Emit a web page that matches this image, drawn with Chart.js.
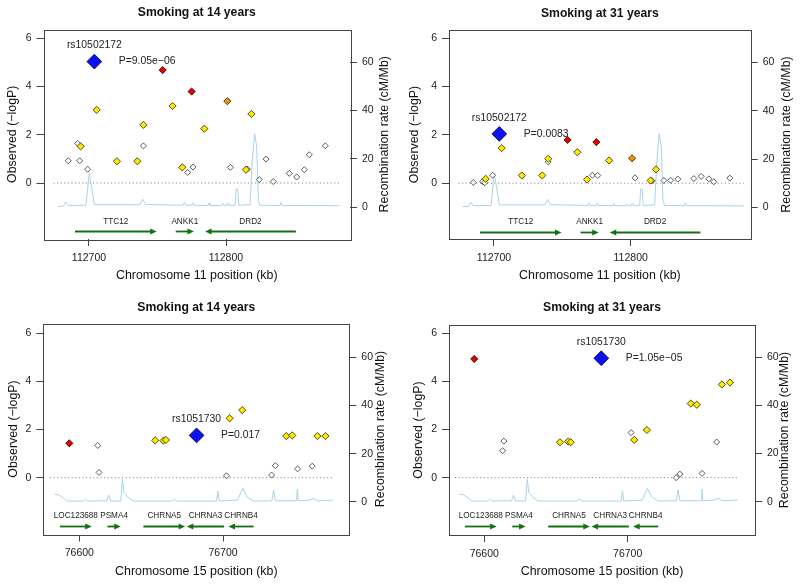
<!DOCTYPE html>
<html>
<head>
<meta charset="utf-8">
<script src="https://cdn.jsdelivr.net/npm/chart.js@4.4.1/dist/chart.umd.min.js"></script>
<style>
  html, body { margin: 0; padding: 0; background: #fff; }
  body { width: 800px; height: 585px; position: relative; overflow: hidden; }
  canvas { position: absolute; }
</style>
</head>
<body>
<canvas id="c1" width="400" height="290" style="left:0;top:0"></canvas>
<canvas id="c2" width="400" height="290" style="left:400px;top:0"></canvas>
<canvas id="c3" width="400" height="295" style="left:0;top:290px"></canvas>
<canvas id="c4" width="400" height="295" style="left:400px;top:290px"></canvas>
<script>
// ---- chromosome 11 region: TTC12 / ANKK1 / DRD2 ----
const chr11Pos = [112684.9, 112691.7, 112693.2, 112693.9, 112699.0, 112703.9, 112705.6, 112720.4,
  112735.3, 112739.7, 112739.7, 112753.8, 112761.0, 112768.1, 112772.0, 112775.9, 112774.9,
  112784.2, 112801.0, 112803.2, 112814.6, 112815.6, 112818.5, 112824.3, 112829.2, 112834.5,
  112846.2, 112851.6, 112857.2, 112860.8, 112872.5];
const chr11LD = ['w', 'w', 'w', 'y', 'w', 'idx', 'y', 'y', 'y', 'y', 'w', 'r', 'y', 'y', 'w', 'w', 'r',
  'y', 'o', 'w', 'y', 'w', 'y', 'w', 'w', 'w', 'w', 'w', 'w', 'w', 'w'];
const chr11Age14 = [0.92, 1.64, 0.92, 1.52, 0.57, 5.03, 3.03, 0.90, 0.90, 2.41, 1.54, 4.68, 3.19, 0.65,
  0.44, 0.66, 3.79, 2.25, 3.39, 0.65, 0.55, 0.58, 2.86, 0.14, 0.99, 0.06, 0.40, 0.25, 0.55, 1.17, 1.54];
const chr11Age31 = [0.03, 0.07, 0.02, 0.18, 0.33, 2.04, 1.45, 0.32, 0.32, 1.01, 0.88, 1.79, 1.28, 0.15,
  0.33, 0.32, 1.70, 0.94, 1.03, 0.22, 0.11, 0.10, 0.57, 0.11, 0.12, 0.17, 0.19, 0.28, 0.18, 0.06, 0.21];
const chr11RecPos = [112677.1, 112681.3, 112683.0, 112684.9, 112697.8, 112700.2, 112702.0, 112703.9,
  112737.2, 112739.2, 112741.1, 112768.6, 112769.6, 112770.6, 112774.9, 112775.7, 112776.4,
  112786.9, 112787.6, 112788.3, 112796.8, 112797.6, 112798.3, 112800.5, 112801.2, 112802.0,
  112806.6, 112807.3, 112808.5, 112809.2, 112817.5, 112819.2, 112820.9, 112822.4, 112823.6,
  112824.8, 112839.4, 112840.1, 112840.9, 112882.7];
const chr11RecRate = [0.3, 0.4, 2.1, 0.7, 0.8, 14.1, 8.0, 1.0, 1.0, 3.3, 1.1, 0.8, 1.9, 0.8, 0.8, 1.9, 0.8,
  0.7, 1.7, 0.7, 0.7, 1.4, 0.7, 0.8, 1.8, 0.8, 0.8, 7.5, 7.5, 0.8, 1.0, 19.6, 30.4, 25.2, 3.0,
  0.8, 0.7, 1.9, 0.7, 0.6];
const chr11Genes = ['TTC12', 'ANKK1', 'DRD2'];
const chr11GeneFrom = [112689.8, 112763.3, 112851.0];
const chr11GeneTo = [112749.4, 112776.6, 112784.7];

// ---- chromosome 15 region: CHRNA5 / CHRNA3 / CHRNB4 ----
const chr15Pos = [76593.0, 76612.8, 76613.7, 76652.8, 76658.5, 76660.3, 76681.6, 76702.4, 76704.6,
  76713.4, 76733.8, 76736.4, 76744.0, 76748.2, 76751.9, 76762.1, 76765.7, 76771.3];
const chr15LD = ['r', 'w', 'w', 'y', 'y', 'y', 'idx', 'w', 'y', 'y', 'w', 'w', 'y', 'y', 'w', 'w', 'y', 'y'];
const chr15Age14 = [1.43, 1.34, 0.22, 1.55, 1.54, 1.57, 1.76, 0.08, 2.47, 2.81, 0.11, 0.50, 1.73, 1.76,
  0.37, 0.48, 1.73, 1.73];
const chr15Age31 = [4.93, 1.12, 1.52, 1.47, 1.50, 1.47, 4.96, 1.87, 1.57, 1.98, 0.00, 0.15, 3.08, 3.03,
  0.18, 1.48, 3.87, 3.95];
const chr15RecPos = [76582.6, 76585.4, 76588.9, 76591.2, 76602.8, 76604.2, 76605.6, 76619.0, 76620.4,
  76621.8, 76628.8, 76630.0, 76631.1, 76634.1, 76637.6, 76664.3, 76666.2, 76668.0, 76695.5,
  76696.4, 76697.3, 76710.1, 76713.8, 76716.6, 76721.3, 76734.0, 76735.2, 76736.4, 76751.2,
  76751.7, 76752.4, 76760.3, 76763.1, 76765.9, 76776.5];
const chr15RecRate = [3.2, 2.9, 1.5, 0.3, 0.3, 1.1, 0.3, 0.4, 2.8, 0.3, 0.3, 9.3, 3.8, 1.8, 0.3, 0.3, 1.0,
  0.3, 0.3, 4.5, 0.3, 0.7, 5.6, 2.1, 0.3, 0.4, 4.9, 0.4, 0.4, 5.3, 0.4, 0.7, 1.4, 0.4, 0.7];
const chr15Genes = ['LOC123688', 'PSMA4', 'CHRNA5', 'CHRNA3', 'CHRNB4'];
const chr15GeneFrom = [76586.5, 76619.5, 76644.6, 76700.8, 76721.3];
const chr15GeneTo = [76608.6, 76628.8, 76673.6, 76674.8, 76703.8];

const FONT = '"Liberation Sans", Arial, sans-serif';
Chart.defaults.font.family = FONT;

// LD bins -> marker look
const LD_STYLE = {
  idx: { bg: '#0b12ee', border: '#00004a', r: 7.4 },
  r: { bg: '#e60000', border: '#2a0000', r: 3.6 },
  o: { bg: '#f0900c', border: '#2a1500', r: 3.6 },
  y: { bg: '#ffe800', border: '#2a2a00', r: 3.6 },
  w: { bg: '#ffffff', border: '#333333', r: 3.0 }
};

const locusPlugin = {
  id: 'locus',
  afterDatasetsDraw(chart, args, o) {
    const { ctx, chartArea: a, scales: { x, y } } = chart;
    ctx.save();
    // genes
    const yLine = Math.round(y.getPixelForValue(-2.0)) + 0.5;
    const yLab = y.getPixelForValue(-1.6);
    ctx.strokeStyle = '#137013';
    ctx.fillStyle = '#137013';
    ctx.lineWidth = 1.8;
    o.genes.forEach((g, i) => {
      const x0 = x.getPixelForValue(o.geneFrom[i]);
      const x1 = x.getPixelForValue(o.geneTo[i]);
      const dir = x1 > x0 ? 1 : -1;
      ctx.beginPath();
      ctx.moveTo(x0, yLine);
      ctx.lineTo(x1 - dir * 4, yLine);
      ctx.stroke();
      ctx.beginPath();
      ctx.moveTo(x1, yLine);
      ctx.lineTo(x1 - dir * 6.5, yLine - 3);
      ctx.lineTo(x1 - dir * 6.5, yLine + 3);
      ctx.closePath();
      ctx.fill();
    });
    ctx.fillStyle = '#222';
    ctx.textAlign = 'center';
    ctx.textBaseline = 'middle';
    ctx.font = '8.2px ' + FONT;
    o.genes.forEach((g, i) => {
      const xm = x.getPixelForValue((o.geneFrom[i] + o.geneTo[i]) / 2);
      ctx.fillText(g, xm, yLab);
    });
    // index SNP labels
    const px = x.getPixelForValue(o.idxPos), py = y.getPixelForValue(o.idxP);
    ctx.font = '10.4px ' + FONT;
    ctx.fillText(o.idxName, px, py - 16);
    ctx.textAlign = 'left';
    ctx.fillText(o.idxLabel, px + 24.5, py);
    // box
    ctx.strokeStyle = '#444';
    ctx.lineWidth = 1;
    ctx.strokeRect(Math.round(a.left) + 0.5, Math.round(a.top) + 0.5,
      Math.round(a.right - a.left), Math.round(a.bottom - a.top));
    // titles
    ctx.fillStyle = '#111';
    ctx.textAlign = 'center';
    ctx.font = 'bold 12.2px ' + FONT;
    ctx.fillText(o.title, (a.left + a.right) / 2, o.titleY);
    ctx.font = '12.4px ' + FONT;
    ctx.fillText(o.xTitle, (a.left + a.right) / 2, o.xTitleY);
    ctx.save();
    ctx.translate(o.yTitleX, (a.top + a.bottom) / 2);
    ctx.rotate(-Math.PI / 2);
    ctx.fillText('Observed (\u2212logP)', 0, 0);
    ctx.restore();
    ctx.save();
    ctx.translate(o.y2TitleX, (a.top + a.bottom) / 2);
    ctx.rotate(-Math.PI / 2);
    ctx.fillText('Recombination rate (cM/Mb)', 0, 0);
    ctx.restore();
    ctx.restore();
  }
};

function makePanel(id, p) {
  const canvas = document.getElementById(id);
  const W = canvas.width, H = canvas.height;
  const datasets = [];
  ['idx', 'r', 'o', 'y', 'w'].forEach((cat, k) => {
    const st = LD_STYLE[cat];
    const pts = [];
    p.pos.forEach((v, i) => { if (p.ld[i] === cat) pts.push({ x: v, y: p.logp[i] }); });
    datasets.push({
      type: 'scatter', yAxisID: 'y', order: k, data: pts,
      pointStyle: 'rectRot', pointRadius: st.r, backgroundColor: st.bg,
      borderColor: st.border, borderWidth: 0.8
    });
  });
  datasets.push({
    type: 'line', yAxisID: 'y2', order: 10,
    data: p.recPos.map((v, i) => ({ x: v, y: p.recRate[i] })),
    borderColor: '#a8d4e6', borderWidth: 1, pointRadius: 0, tension: 0
  });
  datasets.push({
    type: 'line', yAxisID: 'y', order: 11,
    data: [{ x: p.recPos[0] - 3, y: 0 }, { x: p.recPos[p.recPos.length - 1], y: 0 }],
    borderColor: '#777', borderWidth: 1, borderDash: [1, 2.6], pointRadius: 0
  });

  const idx = p.ld.indexOf('idx');
  const tickFont = { family: FONT, size: 10.5 };
  const grid = { display: true, drawOnChartArea: false, drawTicks: true, tickLength: 7, color: '#444', lineWidth: 1 };
  const plain = v => String(v);

  new Chart(canvas, {
    type: 'scatter',
    data: { datasets },
    options: {
      responsive: false,
      animation: false,
      events: [],
      layout: { padding: { top: p.box.T, left: 0, right: 0, bottom: 0 } },
      plugins: {
        legend: { display: false },
        tooltip: { enabled: false },
        locus: {
          genes: p.genes, geneFrom: p.geneFrom, geneTo: p.geneTo,
          idxPos: p.pos[idx], idxP: p.logp[idx], idxName: p.idxName, idxLabel: p.idxLabel,
          title: p.title, xTitle: p.xTitle,
          titleY: p.titleY, xTitleY: p.xTitleY, yTitleX: p.yTitleX, y2TitleX: p.y2TitleX
        }
      },
      scales: {
        x: {
          type: 'linear', position: 'bottom', min: p.xMin, max: p.xMax,
          grid, border: { display: false },
          ticks: { font: tickFont, color: '#222', padding: 5.5, maxRotation: 0, callback: plain },
          afterBuildTicks: s => { s.ticks = p.xTicks.map(v => ({ value: v })); },
          afterFit: s => { s.height = H - p.box.B; s.paddingLeft = 0; s.paddingRight = 0; }
        },
        y: {
          type: 'linear', position: 'left', min: p.yMin, max: p.yMax,
          grid, border: { display: false },
          ticks: { font: tickFont, color: '#222', padding: 5, callback: plain },
          afterBuildTicks: s => { s.ticks = [0, 2, 4, 6].map(v => ({ value: v })); },
          afterFit: s => { s.width = p.box.L; s.paddingTop = 0; s.paddingBottom = 0; }
        },
        y2: {
          type: 'linear', position: 'right', min: (p.yMin + 1) * 10, max: (p.yMax + 1) * 10,
          grid, border: { display: false },
          ticks: { font: tickFont, color: '#222', padding: 5, callback: plain },
          afterBuildTicks: s => { s.ticks = [0, 20, 40, 60].map(v => ({ value: v })); },
          afterFit: s => { s.width = W - p.box.R; s.paddingTop = 0; s.paddingBottom = 0; }
        }
      }
    },
    plugins: [locusPlugin]
  });
}

const chr11Common = {
  pos: chr11Pos, ld: chr11LD, recPos: chr11RecPos, recRate: chr11RecRate,
  genes: chr11Genes, geneFrom: chr11GeneFrom, geneTo: chr11GeneTo,
  idxName: 'rs10502172', xTicks: [112700, 112800], xTitle: 'Chromosome 11 position (kb)'
};
const chr15Common = {
  pos: chr15Pos, ld: chr15LD, recPos: chr15RecPos, recRate: chr15RecRate,
  genes: chr15Genes, geneFrom: chr15GeneFrom, geneTo: chr15GeneTo,
  idxName: 'rs1051730', xTicks: [76600, 76700], xTitle: 'Chromosome 15 position (kb)'
};

makePanel('c1', Object.assign({}, chr11Common, {
  logp: chr11Age14, idxLabel: 'P=9.05e\u221206', title: 'Smoking at 14 years',
  xMin: 112666.8, xMax: 112890.5, yMin: -2.32, yMax: 6.36,
  box: { L: 43.5, R: 350, T: 29.5, B: 239 },
  titleY: 13, xTitleY: 276, yTitleX: 13, y2TitleX: 385
}));
makePanel('c2', Object.assign({}, chr11Common, {
  logp: chr11Age31, idxLabel: 'P=0.0083', title: 'Smoking at 31 years',
  xMin: 112667.1, xMax: 112887.8, yMin: -2.31, yMax: 6.34,
  box: { L: 49, R: 350.7, T: 30, B: 239 },
  titleY: 13.3, xTitleY: 276, yTitleX: 15, y2TitleX: 386.5
}));
makePanel('c3', Object.assign({}, chr15Common, {
  logp: chr15Age14, idxLabel: 'P=0.017', title: 'Smoking at 14 years',
  xMin: 76574.9, xMax: 76787.9, yMin: -2.36, yMax: 6.41,
  box: { L: 43.3, R: 349.3, T: 33.5, B: 244.5 },
  titleY: 17.3, xTitleY: 281.7, yTitleX: 13.3, y2TitleX: 381
}));
makePanel('c4', Object.assign({}, chr15Common, {
  logp: chr15Age31, idxLabel: 'P=1.05e\u221205', title: 'Smoking at 31 years',
  xMin: 76575.4, xMax: 76788.8, yMin: -2.38, yMax: 6.34,
  box: { L: 49, R: 355, T: 35, B: 245 },
  titleY: 17.3, xTitleY: 281.7, yTitleX: 18.3, y2TitleX: 385
}));
</script>
</body>
</html>
